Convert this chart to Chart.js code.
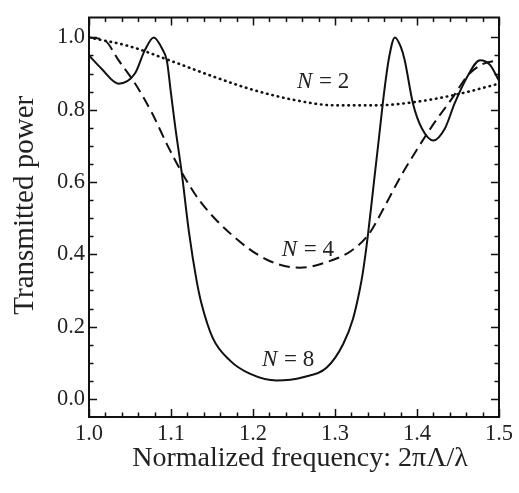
<!DOCTYPE html>
<html>
<head>
<meta charset="utf-8">
<script src="https://cdn.jsdelivr.net/npm/chart.js@4.4.0/dist/chart.umd.min.js"></script>
<style>
  html, body { margin:0; padding:0; background:#fff; }
  #wrap { position:relative; width:519px; height:493px; }
</style>
</head>
<body>
<div id="wrap"><canvas id="chartTrans"></canvas></div>
<script>
// N = 8 (solid)
var freqN8 = [1.000,1.015,1.036,1.056,1.068,1.079,1.090,1.095,1.100,1.105,1.113,1.122,1.131,1.137,1.151,1.172,1.196,1.229,1.261,1.290,1.310,1.322,1.330,1.334,1.340,1.347,1.354,1.360,1.366,1.373,1.380,1.385,1.395,1.406,1.420,1.434,1.446,1.461,1.477,1.489,1.500];
var powN8  = [0.950,0.914,0.872,0.900,0.964,1.000,0.965,0.935,0.845,0.755,0.627,0.460,0.330,0.265,0.168,0.106,0.070,0.051,0.060,0.087,0.152,0.222,0.300,0.350,0.450,0.590,0.730,0.850,0.945,1.000,0.975,0.937,0.818,0.748,0.715,0.748,0.818,0.890,0.937,0.924,0.880];

// N = 4 (dashed)
var freqN4 = [1.000,1.020,1.036,1.056,1.077,1.096,1.113,1.135,1.176,1.217,1.257,1.298,1.320,1.341,1.360,1.380,1.400,1.420,1.443,1.462,1.479,1.500];
var powN4  = [1.000,0.990,0.937,0.873,0.790,0.700,0.627,0.548,0.450,0.385,0.363,0.385,0.410,0.455,0.530,0.615,0.690,0.760,0.832,0.895,0.925,0.937];

// N = 2 (dotted)
var freqN2 = [1.00,1.05,1.10,1.15,1.20,1.25,1.30,1.35,1.40,1.45,1.50];
var powN2  = [1.000,0.975,0.935,0.893,0.855,0.827,0.812,0.812,0.822,0.843,0.872];

var xTicks = [1.0,1.1,1.2,1.3,1.4,1.5];
var yTicks = [0.0,0.2,0.4,0.6,0.8,1.0];

var xTitle = "Normalized frequency: 2πΛ/λ";
var yTitle = "Transmitted power";

// curve labels: text, x, y (data coords of baseline start)
var curveLabels = [
    {n:"2", x:1.2537, y:0.859},
    {n:"4", x:1.235,  y:0.396},
    {n:"8", x:1.211,  y:0.092}
];

function toPoints(xs, ys){
    var pts = [];
    for(var i=0;i<xs.length;i++){
        pts.push({x:xs[i], y:ys[i]});
    }
    return pts;
}

var serif = "'Liberation Serif', 'Times New Roman', serif";

var frameTicks = {
    id: "frameTicks",
    afterDatasetsDraw: function(chart){
        var ctx = chart.ctx;
        var sx = chart.scales.x, sy = chart.scales.y;
        ctx.save();
        ctx.fillStyle = "#222";
        for(var i=0;i<curveLabels.length;i++){
            var px = sx.getPixelForValue(curveLabels[i].x);
            var py = sy.getPixelForValue(curveLabels[i].y);
            ctx.font = "italic 23px " + serif;
            ctx.textBaseline = "alphabetic";
            ctx.textAlign = "left";
            ctx.fillText("N", px, py);
            var w = ctx.measureText("N").width;
            ctx.font = "23px " + serif;
            ctx.fillText(" = " + curveLabels[i].n, px + w + 1, py);
        }
        ctx.restore();
    },
    afterDraw: function(chart){
        var ctx = chart.ctx;
        var a = chart.chartArea;
        var sx = chart.scales.x, sy = chart.scales.y;
        ctx.save();
        ctx.strokeStyle = "#111";
        ctx.lineWidth = 2;
        ctx.strokeRect(a.left, a.top, a.right - a.left, a.bottom - a.top);
        ctx.lineWidth = 1.5;
        ctx.beginPath();
        // x ticks
        for(var k=0;k<=25;k++){
            var v = 1.0 + k*0.02;
            var len = (k % 5 == 0) ? 8 : 4.5;
            var p = Math.round(sx.getPixelForValue(v)) + 0.5;
            ctx.moveTo(p, a.bottom); ctx.lineTo(p, a.bottom - len);
            ctx.moveTo(p, a.top); ctx.lineTo(p, a.top + len);
        }
        // y ticks
        for(var j=0;j<=20;j++){
            var vy = j*0.05;
            var leny = (j % 4 == 0) ? 8 : 4.5;
            var q = Math.round(sy.getPixelForValue(vy)) + 0.5;
            ctx.moveTo(a.left, q); ctx.lineTo(a.left + leny, q);
            ctx.moveTo(a.right, q); ctx.lineTo(a.right - leny, q);
        }
        ctx.stroke();

        // axis titles
        ctx.fillStyle = "#222";
        ctx.textAlign = "center";
        ctx.textBaseline = "alphabetic";
        ctx.font = "28px " + serif;
        ctx.fillText(xTitle, (a.left + a.right)/2 + 6, a.bottom + 49);
        ctx.translate(33, (a.top + a.bottom)/2 - 12);
        ctx.rotate(-Math.PI/2);
        ctx.font = "29px " + serif;
        ctx.fillText(yTitle, 0, 0);
        ctx.restore();
    }
};

var ctx_chart = document.getElementById("chartTrans").getContext("2d");
var chart = new Chart(ctx_chart, {
    type: "line",
    data: {
        datasets: [
            {
                label: "N = 8",
                data: toPoints(freqN8, powN8),
                borderColor: "#111",
                borderWidth: 2,
                pointRadius: 0,
                cubicInterpolationMode: "monotone",
                fill: false
            },
            {
                label: "N = 4",
                data: toPoints(freqN4, powN4),
                borderColor: "#111",
                borderWidth: 2,
                borderDash: [11, 6],
                pointRadius: 0,
                cubicInterpolationMode: "monotone",
                fill: false
            },
            {
                label: "N = 2",
                data: toPoints(freqN2, powN2),
                borderColor: "#111",
                borderWidth: 2.6,
                borderDash: [0.5, 5],
                borderCapStyle: "round",
                pointRadius: 0,
                cubicInterpolationMode: "monotone",
                fill: false
            }
        ]
    },
    options: {
        responsive: true,
        maintainAspectRatio: false,
        animation: false,
        layout: { padding: { top: 9, right: 20, left: 0, bottom: 0 } },
        plugins: {
            legend: { display: false },
            tooltip: { enabled: false }
        },
        scales: {
            x: {
                type: "linear",
                min: 1.0,
                max: 1.5,
                afterFit: function(s){ s.height = 76; },
                afterBuildTicks: function(s){ s.ticks = xTicks.map(function(v){ return {value: v}; }); },
                grid: { display: false, drawTicks: false },
                border: { display: false },
                ticks: {
                    color: "#222",
                    padding: 4,
                    maxRotation: 0,
                    autoSkip: false,
                    font: { family: serif, size: 22.5 },
                    callback: function(v){ return Number(v).toFixed(1); }
                },
                title: { display: false }
            },
            y: {
                min: -0.05,
                max: 1.055,
                afterFit: function(s){ s.width = 89; },
                afterBuildTicks: function(s){ s.ticks = yTicks.map(function(v){ return {value: v}; }); },
                grid: { display: false, drawTicks: false },
                border: { display: false },
                ticks: {
                    color: "#222",
                    padding: 4,
                    autoSkip: false,
                    font: { family: serif, size: 22.5 },
                    callback: function(v){ return Number(v).toFixed(1); }
                },
                title: { display: false }
            }
        }
    },
    plugins: [frameTicks]
});
</script>
</body>
</html>
